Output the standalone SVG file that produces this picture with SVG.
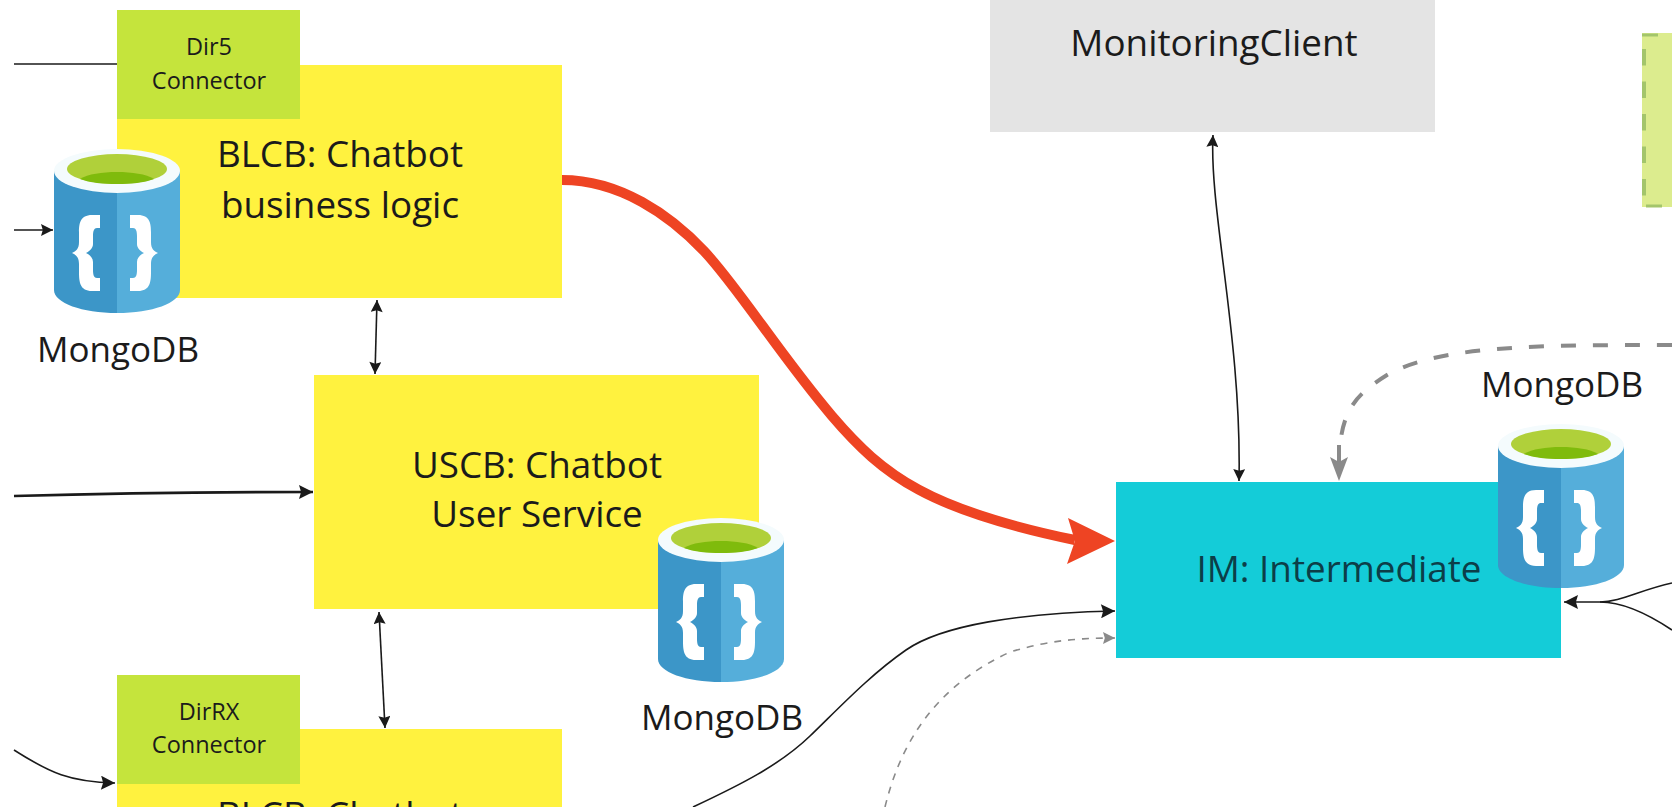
<svg xmlns="http://www.w3.org/2000/svg" width="1672" height="807" viewBox="0 0 1672 807">
<style>
text{font-family:"Open Sans","Noto Sans","Liberation Sans",sans-serif;fill:#1b1b1b;text-anchor:middle}
.big{font-size:36.8px}
.small{font-size:23.5px}
.db{font-size:35px}
.y{fill:#fff23f}
.g{fill:#c5e43c}
.c{fill:none;stroke:#1a1a1a;stroke-width:1.6}
.gd{fill:none;stroke:#8a8a8a}
</style>
<defs>
<marker id="a" viewBox="0 0 10 10" refX="10" refY="5" markerWidth="15" markerHeight="12" markerUnits="userSpaceOnUse" orient="auto-start-reverse"><path d="M0 0L10 5L0 10L1.5 5Z" fill="#1a1a1a"/></marker>
<marker id="al" viewBox="0 0 10 10" refX="10" refY="5" markerWidth="20" markerHeight="14" markerUnits="userSpaceOnUse" orient="auto"><path d="M0 0L10 5L0 10L1.5 5Z" fill="#1a1a1a"/></marker>
<marker id="ag" viewBox="0 0 10 10" refX="10" refY="5" markerWidth="15" markerHeight="12" markerUnits="userSpaceOnUse" orient="auto"><path d="M0 0L10 5L0 10L1.5 5Z" fill="#8a8a8a"/></marker>
<symbol id="cyl" viewBox="0 0 126 165" width="126" height="165" overflow="visible">
<path d="M0 23V142C0 155 28 165 63 165V23Z" fill="#3c96c8"/>
<path d="M126 23V142C126 155 98 165 63 165V23Z" fill="#55aeda"/>
<ellipse cx="63" cy="23" rx="63" ry="22" fill="#f4fbfd"/>
<ellipse cx="63" cy="21" rx="50" ry="15" fill="#b0d03a"/>
<path d="M26 31C34 26 48 24 63 24C78 24 92 26 100 31C90 35 77 36 63 36C49 36 36 35 26 31Z" fill="#7fbb0c"/>
<path d="M46 67H38C26 67 25 76 25 84V94C25 101 22 103 18 105C22 107 25 109 25 116V124C25 134 26 143 38 143H46V130H43C40 130 39 127 39 122V114C39 110 36 107 32 105C36 103 39 100 39 96V88C39 83 40 80 43 80H46Z" fill="#fff"/>
<path d="M76 67H84C96 67 97 76 97 84V94C97 101 100 103 104 105C100 107 97 109 97 116V124C97 134 96 143 84 143H76V130H79C82 130 83 127 83 122V114C83 110 86 107 90 105C86 103 83 100 83 96V88C83 83 82 80 79 80H76Z" fill="#fff"/>
</symbol>
</defs>
<rect width="1672" height="807" fill="#fff"/>
<g id="monitoring-client"><rect x="990" y="-2" width="445" height="134" fill="#e4e4e4"/><text class="big" x="1214" y="56">MonitoringClient</text></g>
<g id="legend-box"><rect x="1642" y="33" width="32" height="174" fill="#dcec8e"/><path d="M1644 49V197" fill="none" stroke="#a3c56b" stroke-width="4" stroke-dasharray="16.5 16"/><path d="M1642 35H1658M1646 206H1662" fill="none" stroke="#a3c56b" stroke-width="3"/></g>
<g id="blcb"><rect class="y" x="117" y="65" width="445" height="233"/><text class="big" x="340" y="167">BLCB: Chatbot</text><text class="big" x="340" y="218">business logic</text></g>
<g id="dir5"><rect class="g" x="117" y="10" width="183" height="109"/><text class="small" x="209" y="55">Dir5</text><text class="small" x="209" y="89">Connector</text></g>
<g id="db-blcb"><use href="#cyl" x="54" y="148"/><text class="db" x="118" y="362">MongoDB</text></g>
<g id="uscb"><rect class="y" x="314" y="375" width="445" height="234"/><text class="big" x="537" y="478">USCB: Chatbot</text><text class="big" x="537" y="527">User Service</text></g>
<g id="db-uscb"><use href="#cyl" x="658" y="517"/><text class="db" x="722" y="730">MongoDB</text></g>
<g id="blcb-2"><rect class="y" x="117" y="729" width="445" height="100"/><text class="big" x="340" y="828">BLCB: Chatbot</text></g>
<g id="dirrx"><rect class="g" x="117" y="675" width="183" height="109"/><text class="small" x="209" y="720">DirRX</text><text class="small" x="209" y="753">Connector</text></g>
<g id="im"><rect x="1116" y="482" width="445" height="176" fill="#14ccd8"/><text class="big" x="1339" y="582" style="fill:#0c3e48">IM: Intermediate</text></g>
<g id="db-im"><use href="#cyl" x="1498" y="423"/><text class="db" x="1562" y="397">MongoDB</text></g>
<g id="connectors">
<path class="c" d="M14 64H117"/>
<path class="c" d="M14 230H53" marker-end="url(#a)"/>
<path class="c" d="M377 300L375 374" marker-start="url(#a)" marker-end="url(#a)"/>
<path class="c" style="stroke-width:2.6" d="M14 496C120 493 210 492 313 492" marker-end="url(#al)"/>
<path class="c" d="M379 612L385 728" marker-start="url(#a)" marker-end="url(#a)"/>
<path class="c" d="M14 750C50 773 70 782 115 783" marker-end="url(#al)"/>
<path fill="none" stroke="#ee4423" stroke-width="10" d="M562 180C620 180 670 215 704 251S780 355 832 416S930 510 1075 540"/>
<path fill="#ee4423" d="M1115 541L1068 518L1075 541L1067 564Z"/>
<path class="c" d="M1213 135C1209 210 1242 340 1239 481" marker-start="url(#a)" marker-end="url(#a)"/>
<path class="gd" stroke-width="4" stroke-dasharray="15 17" d="M1672 345C1540 345 1440 345 1387 375C1355 395 1344 410 1340 445"/>
<path class="gd" stroke-width="4" d="M1339 445V462"/>
<path fill="#8a8a8a" d="M1339 481L1330 457L1339 462L1348 457Z"/>
<path class="c" d="M693 807C740 785 780 765 810 736S870 675 906 650S1020 613 1115 611" marker-end="url(#al)"/>
<path class="gd" stroke-width="1.6" stroke-dasharray="7 7" d="M885 807C905 725 950 680 1010 652C1050 640 1080 638 1115 638" marker-end="url(#ag)"/>
<path class="c" d="M1672 583C1640 590 1620 602 1600 602H1564" marker-end="url(#al)"/>
<path class="c" d="M1672 630C1645 612 1620 602 1600 602"/>
</g>
</svg>
